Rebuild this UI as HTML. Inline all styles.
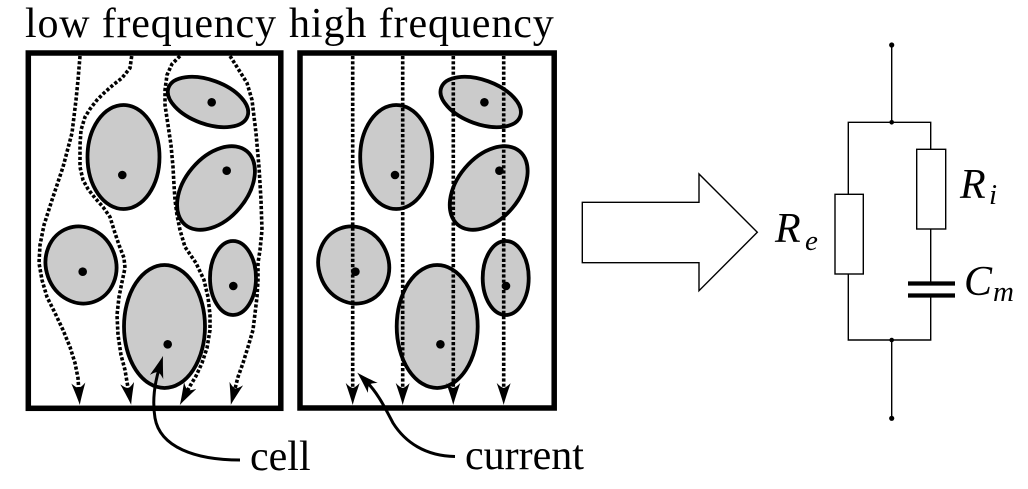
<!DOCTYPE html>
<html>
<head>
<meta charset="utf-8">
<style>
html,body{margin:0;padding:0;background:#fff;}
#wrap{position:relative;width:1028px;height:489px;overflow:hidden;}
svg{display:block;position:absolute;left:0;top:0;}
.t{position:absolute;font-family:"Liberation Serif","Times New Roman",serif;color:#000;white-space:nowrap;margin:0;padding:0;}
.b{font-size:42px;line-height:42px;}
.s{font-size:29px;line-height:29px;}
.i{font-style:italic;}
</style>
</head>
<body>
<div id="wrap">
<svg width="1028" height="489" viewBox="0 0 1028 489" xmlns="http://www.w3.org/2000/svg">
<defs>
<marker id="ah" markerUnits="userSpaceOnUse" viewBox="0 0 22 14" markerWidth="22" markerHeight="14" refX="10" refY="7" orient="auto">
<path d="M22,7 C16,5.5 6,2 0,0 C3,3 4.5,5 5,7 C4.5,9 3,11 0,14 C6,12 16,8.5 22,7 Z" fill="#000"/>
</marker>
<g id="cells">
<ellipse cx="208" cy="102" rx="42" ry="22" transform="rotate(20 208 102)"/>
<ellipse cx="123.5" cy="157" rx="36" ry="52"/>
<ellipse cx="216" cy="188" rx="48" ry="31" transform="rotate(-50 216 188)"/>
<ellipse cx="81" cy="265" rx="35" ry="39" transform="rotate(-20 81 265)"/>
<ellipse cx="164.5" cy="326.5" rx="40.5" ry="61.5"/>
<ellipse cx="233" cy="278" rx="23" ry="37"/>
</g>
<g id="dots">
<circle cx="211.7" cy="102.3" r="4.3"/>
<circle cx="122.3" cy="175" r="4.3"/>
<circle cx="226.7" cy="170.7" r="4.3"/>
<circle cx="82.7" cy="271.7" r="4.3"/>
<circle cx="167.7" cy="344.3" r="4.3"/>
<circle cx="233.3" cy="286" r="4.3"/>
</g>
</defs>

<!-- left panel -->
<g fill="#cbcbcb" stroke="#000" stroke-width="3.8"><use href="#cells"/></g>
<g fill="#000"><use href="#dots"/></g>
<g fill="none" stroke="#000" stroke-width="3.6" stroke-dasharray="3.2 2" marker-end="url(#ah)">
<polyline points="80,56 78,80 76,100 72,133 63,167 52,200 44,225 40,245 39,263 42,280 47,297 55,313 63,330 70,347 75,363 78,378 79,393"/>
<polyline points="131.7,56 130,68 122,78 113,85 104,93 97,100 90,109 85,117 81,130 80,145 80,167 83,180 88,189 95,198 103,207 110,217 114,230 119,245 124,258 125,268 122,282 119,297 117,315 118,335 121,355 125,370 127,382 129,393"/>
<polyline points="180,56 172,64 167,75 165,90 165,105 168,125 171,145 173,167 174,185 175,200 177,215 180,230 185,247 196,263 204,280 208,297 210,315 210,330 207,348 202,363 196,376 190,386 185.5,394.4"/>
<polyline points="230,56 237,67 247,83 252,100 256,133 259,167 261,200 262,230 260,250 258,263 258,280 257,297 253,330 248,347 243,363 238,377 233.8,393.3"/>
</g>
<rect x="28.3" y="53" width="252.5" height="355.3" fill="none" stroke="#000" stroke-width="5.5"/>

<!-- right panel -->
<g transform="translate(272.7,0)">
<g fill="#cbcbcb" stroke="#000" stroke-width="3.8"><use href="#cells"/></g>
<g fill="#000"><use href="#dots"/></g>
</g>
<g fill="none" stroke="#000" stroke-width="3.6" stroke-dasharray="3.2 2" marker-end="url(#ah)">
<line x1="352.7" y1="56" x2="352.7" y2="393"/>
<line x1="402.7" y1="56" x2="402.7" y2="393"/>
<line x1="453.3" y1="56" x2="453.3" y2="393"/>
<line x1="503.7" y1="56" x2="503.7" y2="393"/>
</g>
<rect x="300" y="53" width="254.2" height="355" fill="none" stroke="#000" stroke-width="5.5"/>

<!-- label arrows -->
<g fill="none" stroke="#000" stroke-width="3" marker-end="url(#ah)">
<path d="M240,460 C195,460 160,447 155,418 C152,400 155,382 159.5,367.4"/>
<path d="M455,456.5 C425,456 405,442 393,423 C385,408 378,393 365.8,381"/>
</g>

<!-- block arrow -->
<polygon points="582.3,202.3 699,202.3 699,174 757.3,232.3 699,290.7 699,262.7 582.3,262.7" fill="#fff" stroke="#000" stroke-width="1.4"/>

<!-- circuit -->
<g fill="none" stroke="#000" stroke-width="1.4">
<line x1="891.7" y1="45" x2="891.7" y2="122.3"/>
<polyline points="848.3,194.3 848.3,122.3 930.7,122.3 930.7,149.3"/>
<rect x="835" y="194.3" width="28.3" height="79.7"/>
<rect x="916.7" y="149.3" width="29" height="79.7"/>
<line x1="930.7" y1="229" x2="930.7" y2="283"/>
<polyline points="848.3,274 848.3,340 930.7,340 930.7,295"/>
<line x1="891.7" y1="340" x2="891.7" y2="418.3"/>
</g>
<g stroke="#000" stroke-width="4.2">
<line x1="908" y1="283.5" x2="955" y2="283.5"/>
<line x1="908" y1="295.5" x2="955" y2="295.5"/>
</g>
<g fill="#000">
<circle cx="891.7" cy="45" r="2.6"/>
<circle cx="891.7" cy="122.3" r="2.3"/>
<circle cx="891.7" cy="340" r="2.3"/>
<circle cx="891.7" cy="418.3" r="2.6"/>
</g>
</svg>

<div class="t b" style="left:25px;top:3px;letter-spacing:0.8px;">low frequency</div>
<div class="t b" style="left:289px;top:3px;letter-spacing:0.9px;">high frequency</div>
<div class="t b" style="left:250px;top:436px;">cell</div>
<div class="t b" style="left:465px;top:435px;">current</div>

<div class="t b i" style="left:775px;top:208px;">R</div>
<div class="t s i" style="left:805px;top:227px;">e</div>
<div class="t b i" style="left:960px;top:164px;">R</div>
<div class="t s i" style="left:989px;top:181px;">i</div>
<div class="t b i" style="left:964px;top:261px;">C</div>
<div class="t s i" style="left:993px;top:278px;">m</div>
</div>
</body>
</html>
